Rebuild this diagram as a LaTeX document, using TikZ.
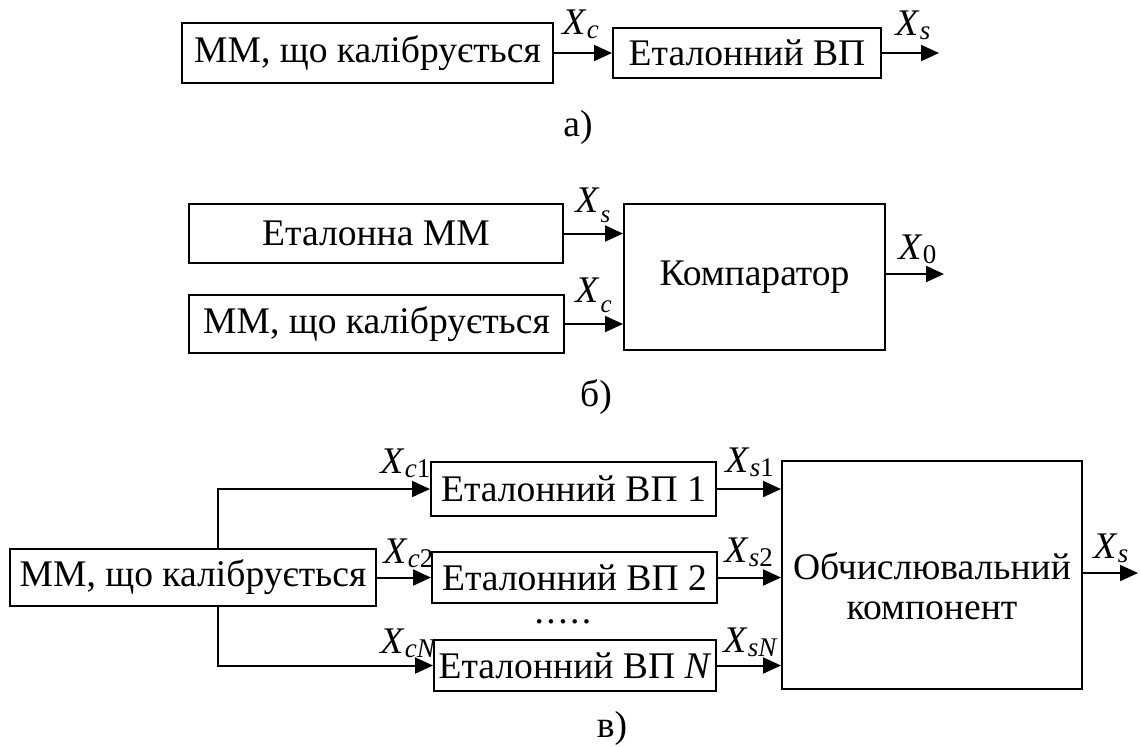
\documentclass[tikz,border=0pt]{standalone}
\usepackage{fontspec}
\setmainfont{Liberation Serif}
\usetikzlibrary{arrows.meta}
\newcommand\sigX[1]{\textit{X}\kern0.01em\raisebox{-2.3pt}{\fontsize{13.5pt}{14pt}\selectfont #1}}
\newcommand\sigL[1]{\textit{X}\kern0.03em\raisebox{-5pt}{\fontsize{12.5pt}{13pt}\selectfont #1}}
\begin{document}
\begin{tikzpicture}[x=0.5pt,y=-0.5pt,
  font=\fontsize{18.8pt}{20pt}\selectfont,
  box/.style={draw, line width=1pt, inner sep=0pt, align=center},
  arr/.style={-{Triangle[length=9pt,width=8pt]}, line width=1pt},
  lab/.style={inner sep=0pt, anchor=base west}]
\fill[white] (0,0) rectangle (1141,746);
\useasboundingbox (0,0) rectangle (1141,746);

% ---------- a) ----------
\node[box, minimum width=185.5pt, minimum height=30pt] (A1) at (367.5,53) {ММ, що калібрується};
\node[box, minimum width=134pt, minimum height=25pt] (A2) at (747,53) {Еталонний ВП};
\coordinate (Aout) at (939,53);
\draw[arr] (A1.east) -- (A2.west);
\draw[arr] (A2.east) -- (Aout);
\node[lab] (lAc) at (562,34) {\sigX{\textit{c}}};
\node[lab] (lAs) at (895,35) {\sigX{\textit{s}}};
\node (capA) at (578,127) {а)};

% ---------- б) ----------
\node[box, minimum width=187pt, minimum height=29.5pt] (B1) at (376,233.5) {Еталонна ММ};
\node[box, minimum width=187.5pt, minimum height=29pt] (B2) at (376.5,324) {ММ, що калібрується};
\node[box, minimum width=130.5pt, minimum height=73pt] (BC) at (754.5,277) {Компаратор};
\coordinate (Bout) at (944,274);
\draw[arr] (B1.east) -- (BC.west |- B1.east);
\draw[arr] (B2.east) -- (BC.west |- B2.east);
\draw[arr] (BC.east |- Bout) -- (Bout);
\node[lab] (lBs) at (575,212) {\sigL{\textit{s}}};
\node[lab] (lBc) at (575,302) {\sigL{\textit{c}}};
\node[lab] (lB0) at (898,259) {\sigX{0}};
\node (capB) at (596,397) {б)};

% ---------- в) ----------
\node[box, minimum width=183pt, minimum height=28.5pt] (C0) at (193,577.5) {ММ, що калібрується};
\node[box, minimum width=142.5pt, minimum height=27pt] (C1) at (573.5,489) {Еталонний ВП 1};
\node[box, minimum width=142.5pt, minimum height=25.5pt] (C2) at (574.5,577.5) {Еталонний ВП 2};
\node[box, minimum width=141pt, minimum height=25.5pt] (CN) at (575,665.5) {Еталонний ВП \textit{N}};
\node[box, minimum width=150pt, minimum height=114pt] (CC) at (932,575) {};
\node[align=center, inner sep=0pt] (CCt) at (932,586) {Обчислювальний\\компонент};
\coordinate (br) at (218,0);
\coordinate (Cout) at (1138,573);
\draw[arr] (C0.north -| br) |- (C1.west);
\draw[arr] (C0.south -| br) |- (CN.west);
\draw[arr] (C0.east) -- (C2.west);
\draw[arr] (C1.east) -- (CC.west |- C1.east);
\draw[arr] (C2.east) -- (CC.west |- C2.east);
\draw[arr] (CN.east) -- (CC.west |- CN.east);
\draw[arr] (CC.east |- Cout) -- (Cout);
\node[lab] (lC1) at (380,473) {\sigX{\textit{c}1}};
\node[lab] (lC2) at (383,563) {\sigX{\textit{c}2}};
\node[lab] (lCN) at (380,653) {\sigX{\textit{cN}}};
\node[lab] (lS1) at (725,472) {\sigX{\textit{s}1}};
\node[lab] (lS2) at (724,562) {\sigX{\textit{s}2}};
\node[lab] (lSN) at (723,652) {\sigX{\textit{sN}}};
\node[lab] (lSo) at (1093,558) {\sigX{\textit{s}}};
\node[inner sep=0pt, anchor=base] (dots) at (563,623) {.\kern1.2pt.\kern1.2pt.\kern1.2pt.\kern1.2pt.};
\node (capC) at (612,728) {в)};
\end{tikzpicture}
\end{document}
